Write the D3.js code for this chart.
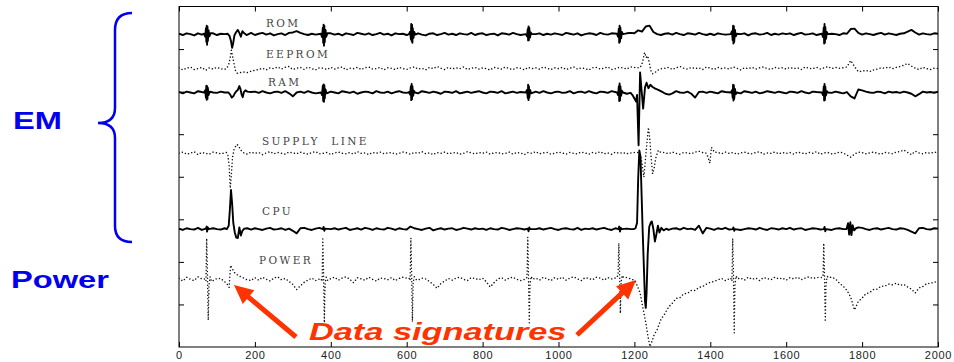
<!DOCTYPE html>
<html>
<head>
<meta charset="utf-8">
<script src="https://cdn.jsdelivr.net/npm/d3@7"></script>
<style>
  html, body { margin: 0; padding: 0; background: #fff; }
  svg { display: block; }
</style>
</head>
<body>
<script>
// ---- data (time 0..2000, values in tick/10 units around each trace's baseline) ----
const traceNames = ['ROM', 'EEPROM', 'RAM', 'SUPPLY  LINE', 'CPU', 'POWER'];
const baselines = [73.5, 65.4, 59.8, 45.5, 27.7, 15.9];
const xTickValues = [0, 200, 400, 600, 800, 1000, 1200, 1400, 1600, 1800, 2000];
const gridStep = 10;

// regular samples every 10 time units
const romGrid = [
  0.1,-0.2,0.2,0,-0.3,0.2,-0.1,0.3,0,0.2,-0.2,0.1,0,-0.2,-3.0,0.3,0.8,0.2,-0.1,0.3,
  -0.2,0.1,0.3,-0.1,0.2,-0.3,0,0.2,-0.2,0.3,0.4,0.7,0.3,0,-0.2,0.1,-0.1,0.2,0,-0.2,
  0.2,-0.1,0.1,-0.3,0.2,0,-0.2,0.3,0.1,-0.1,0.2,-0.2,0,0.3,-0.1,0.1,-0.3,0.2,0,0.1,
  -0.2,0.3,0,0.2,-0.1,-0.3,0.1,0.2,-0.2,0,0.3,-0.1,0.1,-0.2,0.2,0,-0.1,0.3,-0.2,0.1,
  0.2,-0.2,0,0.1,-0.3,0.2,0.1,-0.1,0.3,0,-0.2,0.1,0.2,-0.1,0,0.2,-0.2,0.1,-0.1,0.2,
  0,-0.2,0.3,0.1,-0.1,0.2,-0.3,0,0.2,0.1,-0.2,0.3,0,-0.1,0.2,-0.2,0.1,0,0.2,0.3,
  0.2,0.9,0.6,1.8,2.0,0.5,0,-0.2,0.1,0.2,-0.1,0.3,0,-0.2,0.2,0.1,-0.1,0.3,0,-0.2,
  0.1,-0.2,0.2,0,-0.1,0.3,-0.2,0.1,0,0.2,-0.3,0.1,0.2,-0.1,0,0.3,-0.2,0.1,-0.1,0.2,
  0,0.2,-0.2,0.1,0.3,-0.1,0,0.2,-0.2,0.1,0.2,-0.1,0.1,0,-0.2,0.2,0.1,1.2,1.3,0.3,
  -0.1,0.2,0,-0.2,0.1,0.3,-0.1,0.2,0,-0.2,0.1,0.2,0.6,1.0,0.4,-0.1,0.2,0,-0.1,0.2,0.1
];
const eepromGrid = [
  0.2,-0.3,0.1,0.4,-0.2,0,0.3,-0.4,0.2,-0.1,0.3,0,-0.2,0.1,3.0,-0.8,-1.0,-0.8,-0.9,-0.6,
  -0.4,-0.2,0.1,-0.3,0.2,0,0.4,-0.1,0.3,0.5,-0.2,0.1,0.3,-0.2,0.4,0,-0.3,0.2,0.1,-0.2,
  0.3,-0.1,0.2,0.4,-0.3,0.1,0,0.3,-0.2,0.2,0.4,-0.1,0,0.3,-0.3,0.2,0.1,-0.2,0.3,0,
  -0.2,0.2,0.4,-0.1,0.1,-0.3,0.3,0,0.5,0.1,-0.2,0.3,-0.1,0.2,0,0.4,-0.2,0.1,0.3,-0.1,
  0.2,0,-0.3,0.3,0.1,-0.1,0.4,0,-0.2,0.2,0.1,-0.3,0.3,0,0.2,-0.1,0.4,0.1,-0.2,0.2,
  0,0.3,-0.2,0.1,0.4,-0.1,0.2,0,-0.3,0.2,0.3,-0.1,0.1,0.4,-0.2,0,0.3,0.2,-0.1,0.4,
  0.3,0.5,2.0,3.0,1.0,-1.0,-0.5,-0.2,0.1,0.3,-0.2,0.2,0.5,0.1,-0.1,0.3,0,0.2,-0.2,0.4,
  0.1,-0.2,0.3,0,0.2,-0.1,0.4,0.1,-0.3,0.2,0,0.3,-0.1,0.2,0.4,0,-0.2,0.3,0.1,0.2,
  -0.1,0.3,0,0.2,-0.2,0.4,0.1,0,0.3,-0.1,0.2,0.5,0,0.3,0.1,0.2,0.4,1.9,0.5,-0.7,
  -0.6,-0.4,-0.7,-0.3,-0.1,0.2,0.1,0.4,0,0.3,0.5,0.8,1.2,0.6,0.1,-0.2,0.3,0,-0.2,0.1,0
];
const ramGrid = [
  0.1,-0.2,0.2,0,-0.2,0.3,0.1,-0.3,0.2,0,-0.1,0.2,0,-0.3,-0.8,0.4,1.2,-0.3,0.4,0.1,
  0.2,-0.1,0.3,0,-0.2,0.1,0.2,-0.1,0.3,-0.2,-0.9,0,0.2,-0.1,0.3,0,-0.2,0.2,0.1,-0.1,
  0.2,0,-0.2,0.3,0.1,-0.1,0.2,-0.3,0,0.2,0.1,-0.2,0.3,0,-0.1,0.2,-0.2,0.1,0.3,0,
  -0.1,0.2,0,-0.2,0.3,0.1,-0.1,0.2,0,-0.3,0.2,0.1,-0.1,0.3,-0.2,0,0.2,-0.1,0.1,0.3,
  0,-0.2,0.2,0.1,-0.1,0.3,-0.2,0,0.2,-0.1,0.1,0.3,-0.2,0,0.2,-0.1,0.3,0,-0.2,0.1,
  0.2,-0.1,0,0.3,-0.2,0.1,0.2,-0.1,0.3,0,-0.2,0.2,0.1,-0.1,0.3,0,-0.2,0.1,-0.3,-0.6,
  -1.4,-8,1.0,2.0,1.5,1.0,0.6,0.2,-0.3,-0.5,-0.2,0.3,0,-0.1,0.2,-0.3,-1.2,0.1,0.2,-0.1,
  0.2,0,-0.2,0.3,0.1,-0.1,0.2,0,-0.2,0.3,0.1,-0.1,0.2,-0.2,0,0.3,0.1,-0.1,0.2,0,
  -0.2,0.2,0.1,-0.1,0.3,0,-0.2,0.2,0.1,-0.1,0.3,0,-0.1,0.2,0,-0.2,0.1,-0.9,-1.4,0.7,
  0.5,0.2,0,-0.1,0.2,0.1,-0.2,0.2,0,0.1,-0.1,0.2,0,-0.3,-0.9,-0.4,0.2,0,0.1,-0.1,0.2
];
const supplyGrid = [
  0.1,0.3,-0.2,0,0.4,-0.3,0.2,0,-0.2,0.3,0.1,-0.1,0.2,-1.0,-2.0,1.5,0.6,0.1,-0.2,0.3,
  0,0.2,-0.3,0.1,0.4,-0.1,0.2,0,-0.2,0.3,0.1,-0.1,0.3,0,-0.2,0.2,0.4,-0.1,0,0.2,
  -0.3,0.1,0.3,0,-0.1,0.2,-0.2,0.4,0,0.1,-0.3,0.2,0,0.3,-0.1,0.1,0.2,-0.2,0,0.3,
  0.1,-0.2,0.2,0,0.4,-0.1,0.1,-0.3,0.2,0,0.3,-0.1,0.1,0.2,-0.2,0,0.4,0.1,-0.1,0.2,
  0,0.3,-0.2,0.1,0.2,-0.1,0,0.3,-0.2,0.2,0.1,-0.3,0.2,0,0.4,-0.1,0.1,0.2,-0.2,0,
  0.3,0.1,-0.2,0.2,0,-0.1,0.3,0.1,-0.2,0.2,0,0.4,-0.1,0.1,-0.2,0.3,0,0.2,-0.1,0.1,
  0.2,-2.0,-3.0,2.0,-1.0,-0.5,0.3,0,0.2,-0.1,0.3,0,-0.2,0.2,0.1,-0.1,0.3,0.5,0.2,-0.3,
  1.0,0.5,0.2,-0.1,0.3,0,0.2,-0.2,0.1,0.3,0,-0.1,0.2,0.4,-0.2,0.1,0,0.3,-0.1,0.2,
  0,0.2,-0.2,0.3,0.1,-0.1,0.2,0,0.4,-0.2,0.1,0.2,-0.1,0,0.3,0.1,-0.4,-0.9,-0.2,0.3,
  0.2,-0.1,0.1,0.3,0,-0.2,0.2,0.1,-0.1,0.3,0.4,0.8,0.2,-0.3,0.5,0.1,-0.1,0.2,0,0.3,0.1
];
const cpuGrid = [
  0.1,-0.2,0.2,0,-0.1,0.3,-0.2,0.5,-0.3,0.2,0,-0.1,0.2,0.5,6.0,-1.5,-0.5,0.1,0.2,-0.1,
  0.2,0,-0.2,0.1,0.3,-0.1,0,0.2,-0.2,0.1,-0.4,-1.0,0.2,0.3,0,-0.2,0.1,0.3,-0.1,0.2,
  0,0.2,-0.1,0.1,0.3,-0.2,0,0.2,-0.1,0.3,0.1,-0.2,0.2,0,-0.1,0.3,0.1,-0.2,0.2,0,
  -0.1,0.6,0.2,0,-0.2,0.1,0.3,-0.3,0,0.2,-0.1,0.1,0.2,-0.2,0,0.3,0.1,-0.1,0.2,0,
  0.1,-0.2,0.2,0,-0.1,0.3,0.1,-0.2,0,0.2,0.1,-0.1,0.4,-0.2,0,0.2,-0.1,0.1,0.3,0,
  -0.2,0.1,0.2,0,-0.1,0.3,-0.2,0.1,0,0.2,-0.1,0.1,0.3,0,-0.2,0.2,0.4,-0.3,0.1,0,
  0,12,-18,-3,1.8,-2.9,0.9,-0.3,0.1,-0.2,0.1,0.2,-0.1,0.3,0,0.1,-0.2,0.8,-1.0,0.3,
  0.1,-0.2,0.2,0,0.3,-0.1,0.1,0.2,-0.2,0,0.2,0.1,-0.1,0.3,0,-0.2,0.2,0.1,-0.1,0.2,
  0,0.3,-0.1,0.1,0.2,-0.2,0,0.2,0.1,-0.1,0.3,0,-0.2,0.1,0.2,0,0.1,1.0,-1.0,0.4,
  0.3,0,-0.2,0.1,0.2,-0.1,0.1,0.3,0,-0.1,0.2,0.1,-0.2,-0.6,-1.0,0.2,0.3,0,-0.1,0.2,0.1
];
const powerGrid = [
  0.2,-0.4,0.5,0,-0.3,0.6,0.1,0,-0.6,0.4,0.2,-0.3,-0.9,-1.6,2.5,1.6,1.0,0.6,0.1,-0.3,
  0.4,-0.2,0.5,0,-0.4,0.3,0.6,-0.1,0.2,-0.5,-1.2,-2.4,-1.5,-0.7,-0.2,0.3,-0.3,0.4,0,0.5,
  0.2,0.5,-0.2,0.3,0.6,0,-0.8,0.4,0.1,-0.2,0.5,0,-0.4,0.3,0.2,-0.1,0.4,-0.3,0.2,0.5,
  0.3,0,0.4,-0.2,0.3,0.1,-0.5,-1.2,-2.1,-1.0,-0.4,0.2,-0.2,0.3,0.5,0,-0.3,0.4,0.2,-0.1,
  0.3,-0.6,-1.8,-0.8,0.1,0.4,-0.2,0.3,0.5,0,-0.3,0.2,0.4,0,0.3,-0.2,0.5,0.1,-0.3,0.4,
  0,0.5,-0.2,0.3,0.6,0.1,-0.3,0.4,0.2,-0.1,0.5,0.3,-0.2,0.4,0.1,1.0,0.3,-0.2,0.4,0.2,
  -0.2,-3.0,-6.5,-10.2,-15.5,-13.5,-11.8,-9.4,-8.1,-6.5,-5.6,-4.5,-4.3,-3.4,-3.3,-2.6,-2.6,-1.9,-1.7,-1.1,
  -0.7,-0.5,-0.1,0.2,-0.3,0.4,0.1,0,0.3,-0.2,0.5,0,0.3,-0.3,0.4,0.2,-0.1,0.5,0.1,0.3,
  -0.2,0.4,0.1,0.5,-0.1,0.3,0.6,0.2,0.4,0.5,0.6,0.5,0.5,0.1,-0.9,-1.6,-2.6,-4.2,-7.2,-5.2,
  -4.4,-3.4,-3.1,-2.4,-2.3,-1.6,-1.6,-1.1,-1.3,-0.9,-1.4,-1.2,-1.8,-2.3,-3.2,-2.0,-1.7,-1.0,-1.0,-0.6,-0.7
];

// finer [time, value] samples read around the spikes
const romEvents = [
  [66,0.1],[69,-0.6],[71,1.4],[72,-1.8],[73,2.0],[74,-2.5],[75,1.8],[76,-1.6],[78,0.9],[80,-0.5],[83,0.2],
  [128,0.1],[133,-0.4],[137,-1.6],[140,-3.2],[143,-2.0],[146,-0.3],[150,0.4],[155,1.0],[159,0.3],[163,-0.6],[167,0.7],[172,0.2],[178,-0.2],
  [374,0.1],[377,-0.7],[379,1.5],[380,-2.0],[381,2.2],[382,-2.7],[383,2.0],[384,-1.9],[386,1.0],[388,-0.6],[391,0.2],
  [606,0],[609,0.6],[611,-1.2],[612,2.4],[613,-1.6],[614,2.2],[615,-2.0],[616,1.4],[618,-0.9],[620,0.5],[623,-0.1],
  [914,0],[917,-0.5],[919,1.2],[920,-1.5],[921,1.8],[922,-1.4],[923,1.5],[925,-0.8],[927,0.4],[930,0],
  [1154,0.1],[1157,-0.6],[1159,1.3],[1160,-2.0],[1161,2.0],[1162,-1.8],[1163,1.6],[1165,-1.0],[1167,0.5],[1170,0],
  [1454,0],[1457,0.7],[1459,-1.4],[1460,2.0],[1461,-2.2],[1462,1.9],[1463,-1.8],[1465,1.0],[1467,-0.5],[1470,0.1],
  [1694,0.1],[1697,-0.7],[1699,1.6],[1700,-2.2],[1701,2.4],[1702,-2.0],[1703,1.7],[1705,-1.1],[1707,0.5],[1710,0]
];
const eepromEvents = [
  [126,0.1],[131,1.0],[135,2.6],[138,4.3],[141,3.0],[145,1.2],[149,-0.5],[154,-1.1],[158,-1.0],
  [1214,0.2],[1219,0.8],[1223,2.2],[1227,3.8],[1231,2.6],[1235,3.0],[1239,1.5],[1243,-0.4],[1248,-1.2],[1253,-1.0],[1260,-0.5],[1266,-0.1]
];
const ramEvents = [
  [66,0],[69,0.5],[71,-1.2],[72,1.6],[73,-1.7],[74,1.5],[75,-1.5],[76,1.1],[78,-0.6],[81,0.2],
  [130,0],[135,-0.5],[139,-1.2],[143,-0.9],[147,-0.2],[151,0.3],[155,0.6],[159,1.5],[162,0.8],[165,-0.5],[168,-1.1],[171,0.1],[175,0.5],[180,0.2],
  [374,0],[377,-0.6],[379,1.6],[380,-2.0],[381,1.9],[382,-2.2],[383,1.7],[384,-1.4],[386,0.7],[389,-0.2],
  [606,0.1],[609,-0.5],[611,1.5],[612,-1.8],[613,2.0],[614,-1.6],[615,1.5],[617,-0.8],[619,0.4],[622,0],
  [914,0],[917,0.6],[919,-1.3],[920,1.8],[921,-1.8],[922,1.5],[923,-1.2],[925,0.6],[928,-0.2],
  [1154,0],[1157,-0.6],[1159,1.5],[1160,-2.0],[1161,2.1],[1162,-1.9],[1163,1.5],[1165,-0.8],[1167,0.4],[1170,0],
  [1190,-0.1],[1195,-0.6],[1200,-1.4],[1204,-2.1],[1207,-0.6],[1211,-12.4],[1215,4.7],[1219,0.4],[1223,-3.8],[1228,1.2],
  [1232,2.3],[1237,1.0],[1242,1.8],[1248,1.3],[1255,0.9],[1263,0.6],[1272,0.2],[1282,-0.3],[1292,-0.5],[1300,-0.2],
  [1454,0],[1457,0.5],[1459,-1.2],[1460,1.8],[1461,-1.9],[1462,1.7],[1463,-1.5],[1465,0.8],[1467,-0.4],[1470,0],
  [1694,0],[1697,-0.6],[1699,1.4],[1700,-1.9],[1701,2.0],[1702,-1.8],[1703,1.4],[1705,-0.7],[1707,0.3],[1710,0]
];
const supplyEvents = [
  [125,0.2],[129,-0.5],[132,-2.8],[135,-8.2],[138,-5.0],[141,-1.0],[145,0.9],[149,1.6],[153,2.1],[157,1.7],[162,0.9],[167,0.3],[173,0],
  [1212,0.2],[1217,-0.8],[1221,-3.0],[1225,-5.6],[1229,-1.5],[1233,2.5],[1237,6.1],[1241,3.0],[1244,-1.0],[1248,-4.8],[1252,-3.5],[1257,-0.8],[1263,0.7],[1270,0.2],
  [1388,0.1],[1394,-0.8],[1399,-2.3],[1403,1.4],[1407,0.8],[1412,0.2],[1418,0.3]
];
const cpuEvents = [
  [71,0.1],[73,0.6],[74,-0.6],[76,0.4],[78,0],
  [126,0],[131,0.8],[134,4.5],[137,9.2],[140,6.0],[143,1.5],[147,-0.8],[151,-2.0],[155,-2.1],[159,0.4],[163,-1.5],[167,-0.4],[172,0.1],
  [379,0],[381,0.5],[383,-0.4],[385,0.1],
  [919,0.1],[921,-0.5],[923,0.4],[925,0],
  [1158,0],[1160,0.6],[1162,-0.6],[1164,0.3],[1166,0],
  [1198,0],[1203,0.2],[1207,1.5],[1210,12],[1213,18.5],[1216,17],[1219,8],[1222,-1],[1225,-9],[1228,-17],[1230,-18.5],[1232,-15],
  [1235,-6],[1239,0.5],[1243,1.5],[1246,1.8],[1250,0],[1254,-2.9],[1258,-1.2],[1262,0.8],[1266,-0.8],[1271,0.3],[1277,-0.3],[1284,0.1],
  [1459,0],[1461,0.4],[1463,-0.4],[1465,0],
  [1699,0],[1701,0.5],[1703,-0.5],[1705,0],
  [1759,0],[1763,1.4],[1766,-1.3],[1769,1.6],[1772,-1.4],[1775,0.9],[1779,-0.3],[1784,0.2]
];
const powerEvents = [
  [68,0.1],[71,-0.4],[73,9.6],[75,1.0],[77,-9.6],[79,-1.4],[82,0.6],[86,-0.5],
  [110,0.2],[118,-0.4],[126,-1.0],[132,-1.9],[136,3.3],[140,2.6],[146,1.6],[153,1.1],[160,0.7],[168,0.4],[176,0],
  [374,0.2],[377,-0.5],[379,9.5],[381,0.8],[383,-10.2],[385,-1.0],[388,0.5],[392,-0.3],
  [606,0.3],[609,-0.3],[611,9.7],[613,1.2],[615,-10.0],[617,-0.8],[620,0.6],[624,0],
  [914,0.1],[917,0.5],[919,9.9],[921,0.5],[923,-10.2],[925,-1.2],[928,0.7],[932,0],
  [1154,0.4],[1157,1.2],[1159,8.5],[1161,1.6],[1163,-8.0],[1165,-0.6],[1168,0.9],[1172,0.4],
  [1192,0.1],[1198,-0.2],[1203,-0.6],[1209,-1.8],[1215,-3.2],[1222,-6.5],[1230,-10.2],[1236,-13.5],[1241,-15.8],[1246,-14.6],[1252,-13.0],
  [1454,0.3],[1457,-0.4],[1459,9.6],[1461,1.5],[1463,-12.6],[1465,-1.4],[1468,0.8],[1472,0.1],
  [1694,0.4],[1697,0.8],[1699,8.5],[1701,0.6],[1703,-9.6],[1705,-1.0],[1708,0.7],[1712,0.4]
];

// ---- layout / styles ----
const width = 954, height = 362;
const plot = { left: 179, right: 938, top: 6.5, bottom: 347 };
const dotted = [false, true, false, true, false, true];
const labelPos = [[266, 27], [266, 58], [268, 85.5], [262, 145], [262, 214.5], [259, 263.5]];
const blue = '#0000ee';
const red = '#ff3300';

// merge the regular samples with the spike samples of one trace
function buildTrace(grid, events, base) {
  const kept = grid
    .map((v, i) => [i * gridStep, v])
    .filter(([t]) => !events.some(([te]) => Math.abs(te - t) < 6));
  return kept.concat(events)
    .sort((a, b) => a[0] - b[0])
    .map(([t, v]) => ({ t, v: base + v }));
}

const grids = [romGrid, eepromGrid, ramGrid, supplyGrid, cpuGrid, powerGrid];
const events = [romEvents, eepromEvents, ramEvents, supplyEvents, cpuEvents, powerEvents];
const traces = grids.map((g, i) => buildTrace(g, events[i], baselines[i]));

const svg = d3.select('body').append('svg')
  .attr('width', width)
  .attr('height', height);

const x = d3.scaleLinear().domain([0, 2000]).range([plot.left, plot.right]);
const y = d3.scaleLinear().domain([0, 80]).range([plot.bottom, plot.top]);

svg.append('clipPath').attr('id', 'plot-clip')
  .append('rect')
  .attr('x', plot.left).attr('y', plot.top)
  .attr('width', plot.right - plot.left)
  .attr('height', plot.bottom - plot.top);

// axes, ticks pointing inwards
const yTicks = d3.range(10, 80, 10);
const axisFont = (g) => g.selectAll('text')
  .attr('font-family', '"Liberation Sans", Arial, sans-serif')
  .attr('font-size', 11)
  .attr('letter-spacing', 0.7)
  .attr('fill', '#222');

svg.append('g')
  .attr('transform', `translate(0,${plot.bottom})`)
  .call(d3.axisBottom(x).tickValues(xTickValues).tickFormat(d3.format('d'))
    .tickSizeInner(-5).tickSizeOuter(0).tickPadding(4))
  .call((g) => g.select('.domain').remove())
  .call(axisFont);
svg.append('g')
  .attr('transform', `translate(0,${plot.top})`)
  .call(d3.axisTop(x).tickValues(xTickValues).tickSizeInner(-5).tickSizeOuter(0).tickFormat(''))
  .call((g) => g.select('.domain').remove());
svg.append('g')
  .attr('transform', `translate(${plot.left},0)`)
  .call(d3.axisLeft(y).tickValues(yTicks).tickSizeInner(-5).tickSizeOuter(0).tickFormat(''))
  .call((g) => g.select('.domain').remove());
svg.append('g')
  .attr('transform', `translate(${plot.right},0)`)
  .call(d3.axisRight(y).tickValues(yTicks).tickSizeInner(-5).tickSizeOuter(0).tickFormat(''))
  .call((g) => g.select('.domain').remove());

svg.append('rect')
  .attr('x', plot.left).attr('y', plot.top)
  .attr('width', plot.right - plot.left)
  .attr('height', plot.bottom - plot.top)
  .attr('fill', 'none')
  .attr('stroke', '#000')
  .attr('stroke-width', 1);

// traces
const line = d3.line().x((d) => x(d.t)).y((d) => y(d.v));
svg.append('g')
  .attr('clip-path', 'url(#plot-clip)')
  .selectAll('path')
  .data(traces)
  .join('path')
  .attr('d', line)
  .attr('fill', 'none')
  .attr('stroke', (d, i) => (dotted[i] ? '#111' : '#000'))
  .attr('stroke-width', (d, i) => (dotted[i] ? 1.5 : 1.9))
  .attr('stroke-linecap', (d, i) => (dotted[i] ? 'round' : 'butt'))
  .attr('stroke-linejoin', 'round')
  .attr('stroke-dasharray', (d, i) => (dotted[i] ? '0.01 3.4' : null));

// trace names
svg.append('g')
  .selectAll('text')
  .data(traceNames)
  .join('text')
  .attr('x', (d, i) => labelPos[i][0])
  .attr('y', (d, i) => labelPos[i][1])
  .attr('font-family', '"DejaVu Serif", serif')
  .attr('font-size', 10.5)
  .attr('letter-spacing', 2.4)
  .attr('fill', '#444')
  .style('white-space', 'pre')
  .text((d) => d);

// left side annotations
svg.append('path')
  .attr('d', 'M132,13 C121,13 115,18 115,30 L115,108 C115,118 109,123 98,123 C109,123 115,128 115,138 L115,226 C115,237 121,242 132,242')
  .attr('fill', 'none')
  .attr('stroke', blue)
  .attr('stroke-width', 2.5);

svg.append('text')
  .attr('transform', 'translate(13,129) scale(1.36,1)')
  .attr('font-family', '"Liberation Sans", Arial, sans-serif')
  .attr('font-weight', 'bold')
  .attr('font-size', 24)
  .attr('fill', blue)
  .text('EM');

svg.append('text')
  .attr('transform', 'translate(11,288) scale(1.42,1)')
  .attr('font-family', '"Liberation Sans", Arial, sans-serif')
  .attr('font-weight', 'bold')
  .attr('font-size', 23)
  .attr('fill', blue)
  .text('Power');

// data signature callout
svg.append('text')
  .attr('transform', 'translate(309,340) scale(1.43,1)')
  .attr('font-family', '"Liberation Sans", Arial, sans-serif')
  .attr('font-weight', 'bold')
  .attr('font-style', 'italic')
  .attr('font-size', 24)
  .attr('fill', red)
  .text('Data signatures');

function arrow(x1, y1, x2, y2) {
  const a = Math.atan2(y2 - y1, x2 - x1);
  const len = 19, half = 9;
  const bx = x2 - len * Math.cos(a), by = y2 - len * Math.sin(a);
  const px = -Math.sin(a) * half, py = Math.cos(a) * half;
  svg.append('line')
    .attr('x1', x1).attr('y1', y1)
    .attr('x2', bx + 2 * Math.cos(a)).attr('y2', by + 2 * Math.sin(a))
    .attr('stroke', red)
    .attr('stroke-width', 5);
  svg.append('path')
    .attr('d', `M${x2},${y2} L${bx + px},${by + py} L${bx - px},${by - py} Z`)
    .attr('fill', red);
}
arrow(296, 337, 234, 285);
arrow(577, 335, 636, 280);
</script>
</body>
</html>
